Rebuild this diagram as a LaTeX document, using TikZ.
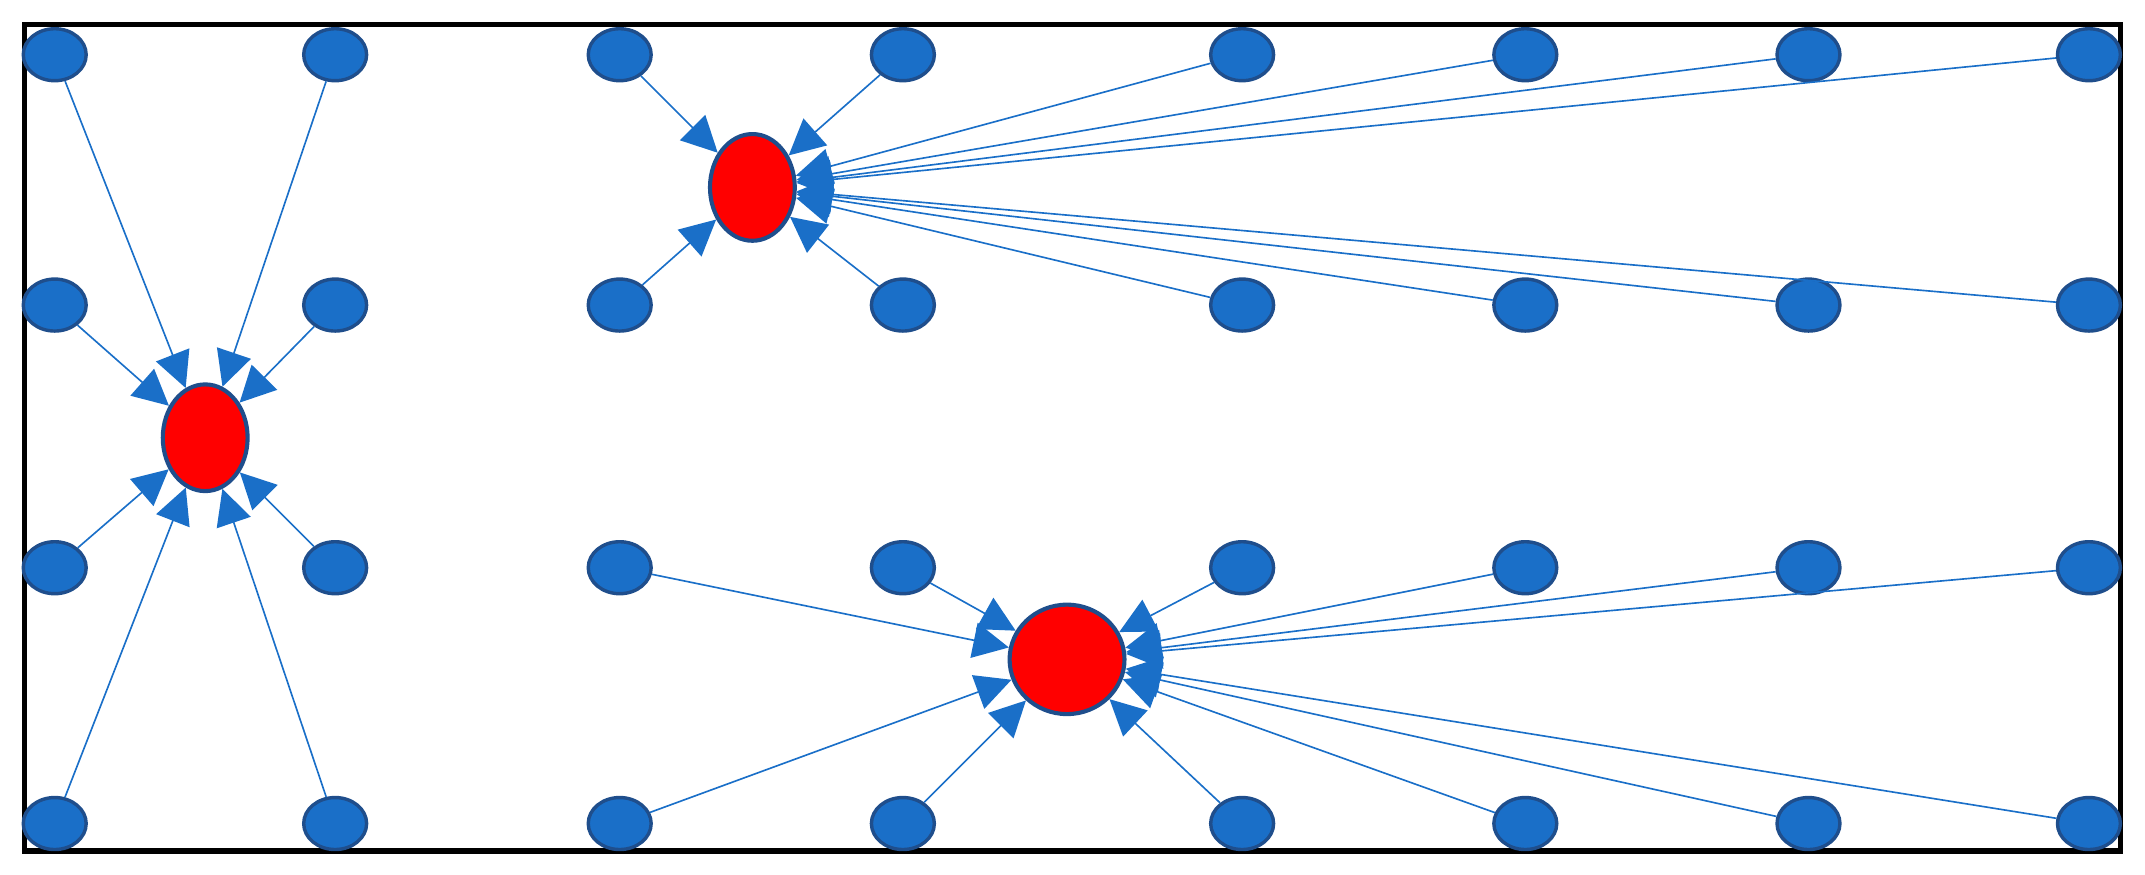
\documentclass[tikz,border=0pt]{standalone}
\usetikzlibrary{arrows.meta,shapes.geometric}
\definecolor{nb}{HTML}{1A6FC8}
\definecolor{nbd}{HTML}{1F4E8C}
\begin{document}
\begin{tikzpicture}[x=1pt,y=-1pt,
  bn/.style={ellipse,draw=nbd,line width=2.5pt,fill=nb,minimum width=46pt,minimum height=38pt,inner sep=0pt},
  rn/.style={ellipse,draw=nbd,line width=3pt,fill=red,inner sep=0pt},
  ed/.style={draw=nb,line width=1.2pt,-{Triangle[length=26pt,width=26pt]}}]
\useasboundingbox (0,0) rectangle (1568,639);
\draw[line width=4pt] (18,18) rectangle (1550,622);
\node[rn,minimum width=62pt,minimum height=78pt] (A) at (150,320) {};
\node[rn,minimum width=62pt,minimum height=78pt] (B) at (550,137) {};
\node[rn,minimum width=84pt,minimum height=80pt] (C) at (780,482) {};
\foreach \x [count=\i] in {40,245,453,660,908,1115,1322,1527}{
  \foreach \y [count=\j] in {40,223,415,602}{
    \node[bn] (n\i-\j) at (\x,\y) {};
  }}
\foreach \i in {1,2}{\foreach \j in {1,2,3,4}{\draw[ed] (n\i-\j) -- (A);}}
\foreach \i in {3,...,8}{\foreach \j in {1,2}{\draw[ed] (n\i-\j) -- (B);}}
\foreach \i in {3,...,8}{\foreach \j in {3,4}{\draw[ed] (n\i-\j) -- (C);}}
\end{tikzpicture}
\end{document}
